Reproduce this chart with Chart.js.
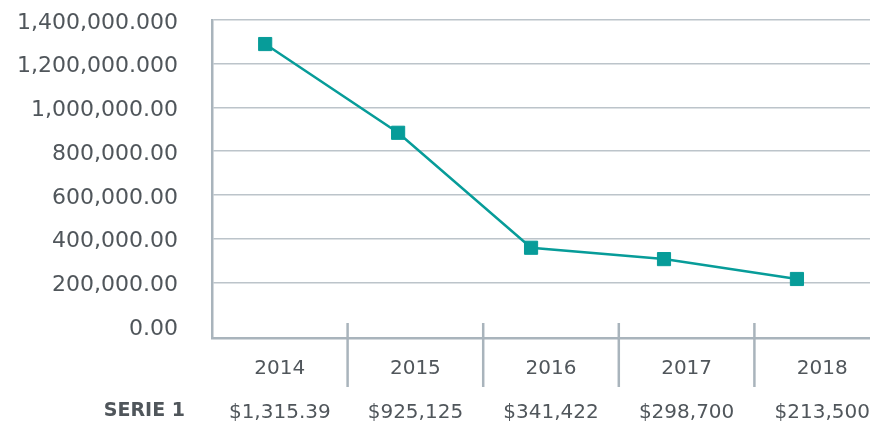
<!DOCTYPE html>
<html>
<head>
<meta charset="utf-8">
<script src="https://cdn.jsdelivr.net/npm/chart.js@4"></script>
<style>
html,body{margin:0;padding:0;background:#fff;overflow:hidden;width:870px;height:424px;}
#wrap{width:890px;height:424px;}
</style>
</head>
<body>
<div id="wrap"><canvas id="c" width="890" height="424"></canvas></div>
<script>
const years = ["2014", "2015", "2016", "2017", "2018"];
const tableValues = ["$1,315.39", "$925,125", "$341,422", "$298,700", "$213,500"];
const seriesName = "SERIE 1";
const serie1 = [1290000, 884000, 358000, 306000, 215000];
const yTickValues = [0, 200000, 400000, 600000, 800000, 1000000, 1200000, 1400000];
const yTickLabels = ["0.00", "200,000.00", "400,000.00", "600,000.00", "800,000.00", "1,000,000.00", "1,200,000.000", "1,400,000.000"];

const TEXT = "#50565b";
const GRID = "#bcc4ca";
const AXIS = "#a9b4bc";
const TEAL = "#079c99";
const NONE = "rgba(0,0,0,0)";

const separators = {
  id: "separators",
  beforeDatasetsDraw(chart) {
    const xs = chart.scales.x;
    const ctx = chart.ctx;
    const bottom = chart.chartArea.bottom;
    ctx.save();
    ctx.strokeStyle = AXIS;
    ctx.lineWidth = 2.5;
    for (let i = 1; i < years.length; i++) {
      const px = (xs.getPixelForTick(i - 1) + xs.getPixelForTick(i)) / 2;
      ctx.beginPath();
      ctx.moveTo(px, bottom - 15);
      ctx.lineTo(px, bottom + 49);
      ctx.stroke();
    }
    ctx.restore();
  },
  afterDraw(chart) {
    const xs = chart.scales.x;
    const ctx = chart.ctx;
    ctx.save();
    ctx.font = "bold 19px 'DejaVu Sans'";
    ctx.fillStyle = TEXT;
    ctx.textAlign = "right";
    ctx.textBaseline = "middle";
    ctx.fillText(seriesName, xs.left - 27, chart.chartArea.bottom + 73);
    ctx.restore();
  }
};

new Chart(document.getElementById("c"), {
  type: "line",
  data: {
    labels: years.map((y, i) => [y, tableValues[i]]),
    datasets: [{
      label: seriesName,
      data: serie1.map((v, i) => ({x: i, y: v})),
      xAxisID: "x2",
      yAxisID: "y",
      borderColor: TEAL,
      borderWidth: 2.5,
      pointStyle: "rect",
      pointRadius: 9.3,
      pointBackgroundColor: TEAL,
      pointBorderColor: TEAL,
      pointBorderWidth: 1,
      tension: 0,
      fill: false
    }]
  },
  options: {
    responsive: false,
    animation: false,
    layout: {autoPadding: false, padding: {top: 20, left: 0, right: 0, bottom: 0}},
    plugins: {legend: {display: false}, tooltip: {enabled: false}},
    scales: {
      x: {
        type: "category",
        position: "bottom",
        offset: true,
        grid: {display: true, drawOnChartArea: false, drawTicks: true, tickLength: 9, color: NONE, tickColor: NONE},
        border: {display: true, color: AXIS, width: 2.5},
        ticks: {
          color: TEXT,
          font: {family: "'DejaVu Sans'", size: 20, lineHeight: 2.2},
          padding: 0,
          maxRotation: 0,
          autoSkip: false
        },
        afterFit(s) { s.height = 86; }
      },
      x2: {
        type: "linear",
        display: false,
        min: -0.4,
        max: 4.7
      },
      y: {
        type: "linear",
        min: -55000,
        max: 1400000,
        afterBuildTicks(s) { s.ticks = yTickValues.map(v => ({value: v})); },
        afterFit(s) { s.width = 212; },
        grid: {
          drawTicks: true,
          tickLength: 34,
          tickColor: NONE,
          lineWidth: 1.5,
          color: (c) => (c.tick && c.tick.value === 0) ? NONE : GRID
        },
        border: {display: true, color: AXIS, width: 2.5},
        ticks: {
          color: TEXT,
          font: {family: "'DejaVu Sans'", size: 22},
          padding: 0,
          labelOffset: 3,
          callback: (v) => {
            const idx = yTickValues.indexOf(v);
            return idx >= 0 ? yTickLabels[idx] : "";
          }
        }
      }
    }
  },
  plugins: [separators]
});
</script>
</body>
</html>
